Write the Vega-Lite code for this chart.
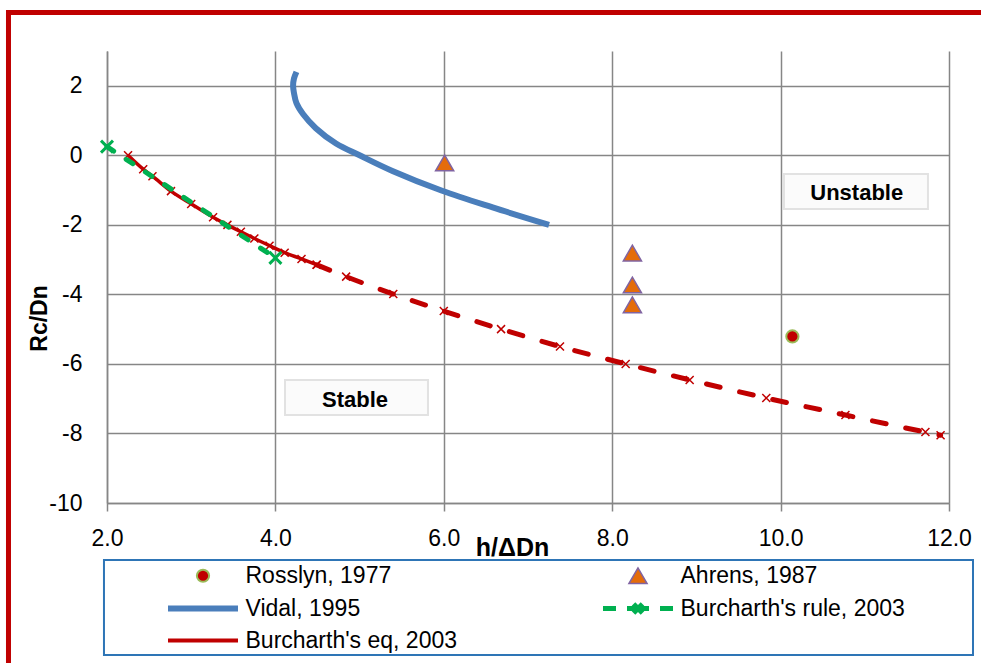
{
  "$schema": "https://vega.github.io/schema/vega-lite/v6.json",
  "width": 842,
  "height": 452,
  "autosize": {"type": "none"},
  "padding": {"left": 107, "top": 51, "right": 32, "bottom": 160},
  "background": "white",
  "config": {
    "view": {"stroke": null},
    "font": "Liberation Sans",
    "axis": {
      "grid": true, "gridColor": "#868686", "gridWidth": 1.5,
      "domainColor": "#868686", "domainWidth": 1.5,
      "tickColor": "#868686", "tickWidth": 1.5,
      "labelFont": "Liberation Sans", "labelColor": "#000000", "labelFontSize": 23,
      "labelFlush": false, "labelOverlap": false, "labelBound": false,
      "titleFont": "Liberation Sans", "titleColor": "#000000", "titleFontWeight": "bold"
    }
  },
  "datasets": {
    "lines": [
      {"series": "Vidal, 1995", "part": "solid", "i": 0, "x": 4.25, "y": 2.4},
      {"series": "Vidal, 1995", "part": "solid", "i": 1, "x": 4.22, "y": 2.2},
      {"series": "Vidal, 1995", "part": "solid", "i": 2, "x": 4.21, "y": 2.0},
      {"series": "Vidal, 1995", "part": "solid", "i": 3, "x": 4.22, "y": 1.8},
      {"series": "Vidal, 1995", "part": "solid", "i": 4, "x": 4.25, "y": 1.5},
      {"series": "Vidal, 1995", "part": "solid", "i": 5, "x": 4.33, "y": 1.18},
      {"series": "Vidal, 1995", "part": "solid", "i": 6, "x": 4.48, "y": 0.78},
      {"series": "Vidal, 1995", "part": "solid", "i": 7, "x": 4.72, "y": 0.34},
      {"series": "Vidal, 1995", "part": "solid", "i": 8, "x": 5.0, "y": 0.0},
      {"series": "Vidal, 1995", "part": "solid", "i": 9, "x": 5.39, "y": -0.45},
      {"series": "Vidal, 1995", "part": "solid", "i": 10, "x": 5.98, "y": -1.02},
      {"series": "Vidal, 1995", "part": "solid", "i": 11, "x": 6.58, "y": -1.5},
      {"series": "Vidal, 1995", "part": "solid", "i": 12, "x": 7.25, "y": -2.0},
      {"series": "Burcharth's rule, 2003", "part": "dash", "i": 0, "x": 2.0, "y": 0.25},
      {"series": "Burcharth's rule, 2003", "part": "dash", "i": 1, "x": 4.0, "y": -2.95},
      {"series": "Burcharth's eq, 2003", "part": "solid", "i": 0, "x": 2.25, "y": 0.0},
      {"series": "Burcharth's eq, 2003", "part": "solid", "i": 1, "x": 2.43, "y": -0.4},
      {"series": "Burcharth's eq, 2003", "part": "solid", "i": 2, "x": 2.54, "y": -0.6},
      {"series": "Burcharth's eq, 2003", "part": "solid", "i": 3, "x": 2.76, "y": -1.03},
      {"series": "Burcharth's eq, 2003", "part": "solid", "i": 4, "x": 3.0, "y": -1.4},
      {"series": "Burcharth's eq, 2003", "part": "solid", "i": 5, "x": 3.26, "y": -1.78},
      {"series": "Burcharth's eq, 2003", "part": "solid", "i": 6, "x": 3.43, "y": -2.0},
      {"series": "Burcharth's eq, 2003", "part": "solid", "i": 7, "x": 3.59, "y": -2.2},
      {"series": "Burcharth's eq, 2003", "part": "solid", "i": 8, "x": 3.75, "y": -2.39},
      {"series": "Burcharth's eq, 2003", "part": "solid", "i": 9, "x": 3.93, "y": -2.6},
      {"series": "Burcharth's eq, 2003", "part": "solid", "i": 10, "x": 4.11, "y": -2.8},
      {"series": "Burcharth's eq, 2003", "part": "solid", "i": 11, "x": 4.31, "y": -2.98},
      {"series": "Burcharth's eq, 2003", "part": "solid", "i": 12, "x": 4.49, "y": -3.15},
      {"series": "Burcharth's eq, 2003", "part": "dash", "i": 13, "x": 4.49, "y": -3.15},
      {"series": "Burcharth's eq, 2003", "part": "dash", "i": 14, "x": 4.84, "y": -3.49},
      {"series": "Burcharth's eq, 2003", "part": "dash", "i": 15, "x": 5.4, "y": -3.99},
      {"series": "Burcharth's eq, 2003", "part": "dash", "i": 16, "x": 6.0, "y": -4.48},
      {"series": "Burcharth's eq, 2003", "part": "dash", "i": 17, "x": 6.68, "y": -5.0},
      {"series": "Burcharth's eq, 2003", "part": "dash", "i": 18, "x": 7.38, "y": -5.5},
      {"series": "Burcharth's eq, 2003", "part": "dash", "i": 19, "x": 8.16, "y": -6.0},
      {"series": "Burcharth's eq, 2003", "part": "dash", "i": 20, "x": 8.92, "y": -6.46},
      {"series": "Burcharth's eq, 2003", "part": "dash", "i": 21, "x": 9.83, "y": -6.98},
      {"series": "Burcharth's eq, 2003", "part": "dash", "i": 22, "x": 10.77, "y": -7.47},
      {"series": "Burcharth's eq, 2003", "part": "dash", "i": 23, "x": 11.72, "y": -7.96},
      {"series": "Burcharth's eq, 2003", "part": "dash", "i": 24, "x": 11.9, "y": -8.05}
    ],
    "points": [
      {"series": "Rosslyn, 1977", "x": 10.14, "y": -5.21},
      {"series": "Ahrens, 1987", "x": 6.01, "y": -0.22},
      {"series": "Ahrens, 1987", "x": 8.24, "y": -2.81},
      {"series": "Ahrens, 1987", "x": 8.24, "y": -3.73},
      {"series": "Ahrens, 1987", "x": 8.24, "y": -4.3}
    ],
    "notes": [
      {"label": "Stable", "x": 4.945, "y": -7.04, "x0": 4.114, "x1": 5.812, "y0": -6.462, "y1": -7.469},
      {"label": "Unstable", "x": 10.904, "y": -1.075, "x0": 10.04, "x1": 11.75, "y0": -0.538, "y1": -1.544}
    ]
  },
  "layer": [
    {
      "data": {"values": [{}]},
      "mark": {"type": "rect", "filled": false, "stroke": "#C00000", "strokeWidth": 5, "clip": false},
      "encoding": {
        "x": {"datum": 0.83, "type": "quantitative"},
        "x2": {"datum": 13.5},
        "y": {"datum": 4.107, "type": "quantitative"},
        "y2": {"datum": -17}
      }
    },
    {
      "data": {"values": [{}]},
      "mark": {"type": "rect", "filled": false, "stroke": "#2E75B6", "strokeWidth": 2, "clip": false},
      "encoding": {
        "x": {"datum": 1.964, "type": "quantitative"},
        "x2": {"datum": 12.285},
        "y": {"datum": -11.64, "type": "quantitative"},
        "y2": {"datum": -14.37}
      }
    },
    {
      "data": {"name": "lines"},
      "transform": [{"filter": {"field": "series", "equal": "Vidal, 1995"}}],
      "mark": {"type": "line", "color": "#4A7EBB", "strokeWidth": 6, "interpolate": "catmull-rom"},
      "encoding": {
        "x": {"field": "x", "type": "quantitative", "scale": {"domain": [2, 12], "nice": false, "zero": false},
          "axis": {"title": "h/ΔDn", "values": [2, 4, 6, 8, 10, 12], "format": ".1f", "tickSize": 8, "labelPadding": 16,
            "titleFontSize": 25, "titleX": 405, "titleY": 44, "titleBaseline": "middle", "titleAlign": "center"}},
        "y": {"field": "y", "type": "quantitative", "scale": {"domain": [-10, 3], "nice": false, "zero": false},
          "axis": {"title": "Rc/Dn", "values": [-10, -8, -6, -4, -2, 0, 2],
            "labelExpr": "datum.value < 0 ? '-' + abs(datum.value) : '' + datum.value",
            "tickSize": 0, "labelPadding": 25,
            "titleFontSize": 23, "titleX": -68, "titleY": 267, "titleAngle": 270, "titleBaseline": "middle", "titleAlign": "center"}},
        "order": {"field": "i"}
      }
    },
    {
      "data": {"name": "lines"},
      "transform": [{"filter": {"field": "series", "equal": "Burcharth's eq, 2003"}}, {"filter": {"field": "part", "equal": "solid"}}],
      "mark": {"type": "line", "color": "#C00000", "strokeWidth": 3.5, "interpolate": "monotone"},
      "encoding": {
        "x": {"field": "x", "type": "quantitative"},
        "y": {"field": "y", "type": "quantitative"},
        "order": {"field": "i"}
      }
    },
    {
      "data": {"name": "lines"},
      "transform": [{"filter": {"field": "part", "equal": "dash"}}, {"filter": {"field": "series", "equal": "Burcharth's eq, 2003"}}],
      "mark": {"type": "line", "color": "#C00000", "strokeWidth": 5, "strokeDash": [14, 20], "strokeCap": "round", "interpolate": "monotone"},
      "encoding": {
        "x": {"field": "x", "type": "quantitative"},
        "y": {"field": "y", "type": "quantitative"},
        "order": {"field": "i"}
      }
    },
    {
      "data": {"name": "lines"},
      "transform": [{"filter": {"field": "series", "equal": "Burcharth's eq, 2003"}}],
      "mark": {"type": "point", "shape": "M-1,-1L1,1M-1,1L1,-1", "filled": false, "color": "#C00000", "strokeWidth": 1.5, "size": 64, "opacity": 1},
      "encoding": {
        "x": {"field": "x", "type": "quantitative"},
        "y": {"field": "y", "type": "quantitative"}
      }
    },
    {
      "data": {"name": "lines"},
      "transform": [{"filter": {"field": "series", "equal": "Burcharth's rule, 2003"}}],
      "mark": {"type": "line", "color": "#00B050", "strokeWidth": 5, "strokeDash": [8, 15], "strokeCap": "round"},
      "encoding": {
        "x": {"field": "x", "type": "quantitative"},
        "y": {"field": "y", "type": "quantitative"},
        "order": {"field": "i"}
      }
    },
    {
      "data": {"name": "lines"},
      "transform": [{"filter": {"field": "series", "equal": "Burcharth's rule, 2003"}}],
      "mark": {"type": "point", "shape": "M-1,-1L1,1M-1,1L1,-1", "filled": false, "color": "#00B050", "strokeWidth": 3, "size": 144, "opacity": 1},
      "encoding": {
        "x": {"field": "x", "type": "quantitative"},
        "y": {"field": "y", "type": "quantitative"}
      }
    },
    {
      "data": {"name": "notes"},
      "mark": {"type": "rect", "fill": "#FBFBFB", "stroke": "#E2E2E2", "strokeWidth": 2},
      "encoding": {
        "x": {"field": "x0", "type": "quantitative"},
        "x2": {"field": "x1"},
        "y": {"field": "y0", "type": "quantitative"},
        "y2": {"field": "y1"}
      }
    },
    {
      "data": {"name": "notes"},
      "mark": {"type": "text", "font": "Liberation Sans", "fontWeight": "bold", "fontSize": 22, "color": "#000000", "align": "center", "baseline": "middle"},
      "encoding": {
        "x": {"field": "x", "type": "quantitative"},
        "y": {"field": "y", "type": "quantitative"},
        "text": {"field": "label"}
      }
    },
    {
      "data": {"name": "points"},
      "mark": {"type": "point", "filled": true, "opacity": 1},
      "encoding": {
        "x": {"field": "x", "type": "quantitative"},
        "y": {"field": "y", "type": "quantitative"},
        "shape": {
          "field": "series", "type": "nominal",
          "scale": {
            "domain": ["Rosslyn, 1977", "Vidal, 1995", "Burcharth's eq, 2003", "Ahrens, 1987", "Burcharth's rule, 2003"],
            "range": ["circle", "M-7,0H7", "M-7,0H7", "triangle-up", "M-7,0H-4.4M-2.2,0H2.2M4.4,0H7M-0.9,-0.9L0.9,0.9M-0.9,0.9L0.9,-0.9"]
          },
          "legend": {
            "title": null,
            "orient": "none", "legendX": 61, "legendY": 513,
            "columns": 2, "columnPadding": 135, "rowPadding": 6,
            "padding": 0,
            "symbolOffset": 23.5, "labelOffset": 31,
            "labelFont": "Liberation Sans", "labelFontSize": 23, "labelColor": "#000000", "labelLimit": 500,
            "symbolOpacity": 1
          }
        },
        "fill": {
          "field": "series", "type": "nominal",
          "scale": {
            "domain": ["Rosslyn, 1977", "Vidal, 1995", "Burcharth's eq, 2003", "Ahrens, 1987", "Burcharth's rule, 2003"],
            "range": ["#C00000", "transparent", "transparent", "#E46C0A", "transparent"]
          }
        },
        "stroke": {
          "field": "series", "type": "nominal",
          "scale": {
            "domain": ["Rosslyn, 1977", "Vidal, 1995", "Burcharth's eq, 2003", "Ahrens, 1987", "Burcharth's rule, 2003"],
            "range": ["#9BBB59", "#4A7EBB", "#C00000", "#8064A2", "#00B050"]
          }
        },
        "size": {
          "field": "series", "type": "nominal",
          "scale": {
            "type": "ordinal",
            "domain": ["Rosslyn, 1977", "Vidal, 1995", "Burcharth's eq, 2003", "Ahrens, 1987", "Burcharth's rule, 2003"],
            "range": [150, 100, 100, 330, 100]
          }
        },
        "strokeWidth": {
          "field": "series", "type": "nominal",
          "scale": {
            "type": "ordinal",
            "domain": ["Rosslyn, 1977", "Vidal, 1995", "Burcharth's eq, 2003", "Ahrens, 1987", "Burcharth's rule, 2003"],
            "range": [2, 6, 4, 1.5, 5]
          }
        }
      }
    }
  ]
}
